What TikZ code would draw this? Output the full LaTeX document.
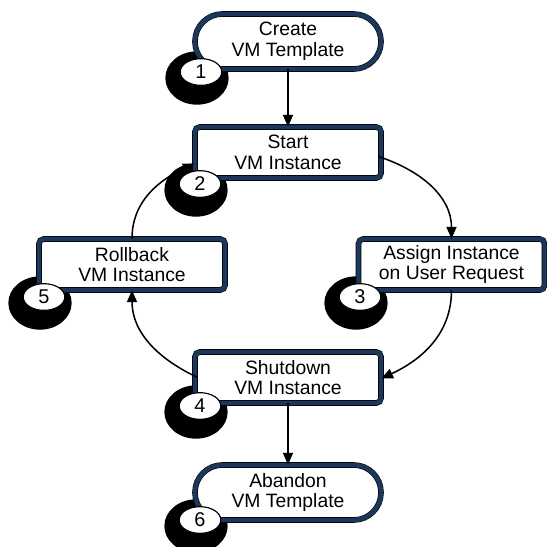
\documentclass[tikz,border=0pt]{standalone}
\usepackage{fontspec}
\setmainfont{Liberation Sans}
\usepackage{xcolor}
\usetikzlibrary{shapes,arrows.meta,positioning,calc}

\definecolor{boxnavy}{RGB}{27,56,92}

\begin{document}
\begin{tikzpicture}[x=0.03cm,y=-0.03cm,
    stepbox/.style={rectangle,draw=black,double=boxnavy,line width=0.5pt,double distance=3.8pt,
        fill=white,rounded corners=4pt,minimum width=5.58cm,minimum height=1.53cm,
        align=center,font=\fontsize{16.5}{17.5}\selectfont,inner sep=0pt},
    termbox/.style={stepbox,rounded corners=0.82cm,minimum height=1.65cm},
    blob/.style={ellipse,fill=black,minimum width=1.9cm,minimum height=1.6cm,inner sep=0pt},
    badge/.style={ellipse,draw=black,line width=1pt,fill=white,minimum width=1.25cm,
        minimum height=0.8cm,inner sep=0pt,font=\fontsize{17}{17}\selectfont},
    flow/.style={-{Triangle[length=10pt,width=8.5pt]},line width=1.3pt}]
    \useasboundingbox (0,0) rectangle (547,547);

    % Shadow blobs of the step numbers
    \node[blob] (bl1) at (197,78) {};
    \node[blob] (bl2) at (196,190) {};
    \node[blob] (bl5) at (40,303) {};
    \node[blob] (bl3) at (356,303) {};
    \node[blob] (bl4) at (196,412) {};
    \node[blob] (bl6) at (196,526) {};

    % Steps
    \node[termbox] (create) at (288,41.5) {Create\\VM Template};
    \node[stepbox] (start) at (288,152.5) {Start\\VM Instance};
    \node[stepbox] (rollback) at (132,264.5) {Rollback\\VM Instance};
    \node[stepbox] (assign) at (451.5,264.5) {Assign Instance\\on User Request};
    \node[stepbox] (shutdown) at (288,377.5) {Shutdown\\VM Instance};
    \node[termbox] (abandon) at (288,492.5) {Abandon\\VM Template};

    % Flows
    \draw[flow] ($(start.east)+(-3,4)$) to[out=-18,in=90] (assign.north);
    \draw[flow] (assign.south) to[out=-90,in=25] ($(shutdown.east)+(0,1)$);
    \draw[flow] ($(shutdown.west)+(3,0)$) to[out=155,in=-90] (rollback.south);
    \draw[flow] (rollback.north) to[out=90,in=205] ($(start.west)+(0,11)$);
    \draw[flow] (create.south) -- (start.north);
    \draw[flow] (shutdown.south) -- (abandon.north);

    % Step numbers
    \node[badge] (b1) at (201,72) {1};
    \node[badge] (b2) at (200,184) {2};
    \node[badge] (b5) at (44,297) {5};
    \node[badge] (b3) at (360,297) {3};
    \node[badge] (b4) at (200,406) {4};
    \node[badge] (b6) at (200,520) {6};
\end{tikzpicture}
\end{document}
